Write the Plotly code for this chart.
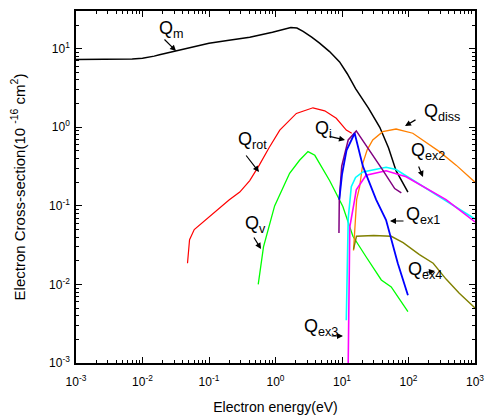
import plotly.graph_objects as go

# ---------------- data ----------------
qm_x = [0.001, 0.003, 0.005, 0.007, 0.01, 0.012, 0.015, 0.018, 0.032, 0.06, 0.1, 0.2, 0.41, 0.9, 1.3, 1.7, 2.1, 2.6, 3.5, 4.6, 6.5, 9.2, 12, 16, 25, 37, 50, 65, 98]
qm_y = [7.3, 7.3, 7.35, 7.42, 7.55, 7.75, 8.05, 8.4, 9.4, 10.7, 11.7, 12.8, 14.0, 16.2, 17.6, 18.6, 18.3, 16.6, 14.0, 11.8, 9.2, 6.8, 4.8, 3.1, 1.75, 1.0, 0.55, 0.28, 0.15]

qrot_x = [0.0475, 0.049, 0.051, 0.06, 0.077, 0.13, 0.2, 0.29, 0.41, 0.57, 0.8, 1.16, 2.06, 3.66, 5.5, 8.2, 11.6, 14]
qrot_y = [0.0186, 0.027, 0.037, 0.05, 0.06, 0.088, 0.119, 0.15, 0.21, 0.33, 0.55, 0.92, 1.5, 1.77, 1.62, 1.3, 0.92, 0.84]

qv_x = [0.55, 0.62, 0.66, 0.97, 1.63, 2.3, 3.08, 3.9, 6.5, 10.3, 14.6, 23, 39, 55, 98]
qv_y = [0.01, 0.021, 0.03, 0.1, 0.26, 0.38, 0.49, 0.44, 0.21, 0.098, 0.041, 0.0225, 0.0114, 0.0093, 0.0045]

qi1_x = [9.0, 9.1, 9.9, 12.4, 16.4, 26, 41, 62, 78]
qi1_y = [0.045, 0.12, 0.32, 0.69, 0.90, 0.51, 0.285, 0.166, 0.146]

qi2_x = [9.1, 10, 11.7, 15.5, 20.6, 32.6, 46, 69, 98]
qi2_y = [0.12, 0.25, 0.51, 0.84, 0.32, 0.12, 0.066, 0.0186, 0.0073]

qdiss_x = [14.9, 16.6, 18.4, 20.6, 24, 29, 41, 65, 116, 200, 292, 520, 1000]
qdiss_y = [0.027, 0.12, 0.175, 0.35, 0.52, 0.69, 0.88, 0.95, 0.84, 0.62, 0.49, 0.33, 0.20]

qex2a_x = [11.6, 12.4, 13.8, 16, 20.6, 36.7, 46, 65, 146, 292, 1000]
qex2a_y = [0.0035, 0.069, 0.175, 0.23, 0.27, 0.30, 0.31, 0.29, 0.19, 0.13, 0.068]

qex2b_x = [12.4, 12.7, 13.1, 15.5, 16.4, 23, 46, 92, 184, 367, 1000]
qex2b_y = [0.001, 0.01, 0.054, 0.12, 0.16, 0.245, 0.28, 0.235, 0.167, 0.12, 0.0625]

qex4_x = [14.9, 16.5, 30, 55, 83, 146, 235, 367, 580, 1000]
qex4_y = [0.028, 0.041, 0.042, 0.041, 0.034, 0.024, 0.0186, 0.0117, 0.0077, 0.005]

x_tick_vals = [1e-3, 1e-2, 1e-1, 1e0, 1e1, 1e2, 1e3]
x_tick_text = ["10<sup>-3</sup>", "10<sup>-2</sup>", "10<sup>-1</sup>", "10<sup>0</sup>",
               "10<sup>1</sup>", "10<sup>2</sup>", "10<sup>3</sup>"]
y_tick_vals = [1e-3, 1e-2, 1e-1, 1e0, 1e1]
y_tick_text = ["10<sup>-3</sup>", "10<sup>-2</sup>", "10<sup>-1</sup>", "10<sup>0</sup>", "10<sup>1</sup>"]

# labels: (text, text-left px, text-center py, arrow tail px, tail py, head px, head py)
labels = [
    ("Q<sub>m</sub>", 157, 27, 163, 38, 176, 51),
    ("Q<sub>rot</sub>", 236, 138, 245, 154, 259, 172),
    ("Q<sub>v</sub>", 243, 222, 253, 236, 261, 249),
    ("Q<sub>ex3</sub>", 302, 325, 330, 336, 343, 336),
    ("Q<sub>ex1</sub>", 404, 213, 405, 221, 390, 221),
    ("Q<sub>ex4</sub>", 406, 268, 422, 273, 435, 271),
    ("Q<sub>diss</sub>", 422, 110, 417, 119, 405, 126),
    ("Q<sub>ex2</sub>", 409, 150, 418, 165, 423, 177),
    ("Q<sub>i</sub>", 313, 127, 328, 136, 345, 140),
]

# ---------------- figure ----------------
W, H = 487, 417
ML, MR, MT, MB = 76, 12, 11, 54
PW, PH = W - ML - MR, H - MT - MB

def px2paper(px, py):
    return (px - ML) / PW, (H - MB - py) / PH

FONT = "Liberation Sans, Arial, sans-serif"

fig = go.Figure()
series = [
    (qm_x, qm_y, "#000000", 1.5),
    (qrot_x, qrot_y, "#FF0000", 1.2),
    (qv_x, qv_y, "#00FF00", 1.3),
    (qdiss_x, qdiss_y, "#FF8000", 1.3),
    (qex2a_x, qex2a_y, "#00FFFF", 1.6),
    (qex2b_x, qex2b_y, "#FF00FF", 1.6),
    (qex4_x, qex4_y, "#808000", 1.4),
    (qi1_x, qi1_y, "#800080", 1.5),
    (qi2_x, qi2_y, "#0000FF", 1.8),
]
for xs, ys, c, w in series:
    fig.add_trace(go.Scatter(x=xs, y=ys, mode="lines",
                             line=dict(color=c, width=w),
                             showlegend=False, hoverinfo="skip"))

annotations = []
for txt, tx, ty, ax_, ay_, hx, hy in labels:
    xp, yp = px2paper(tx, ty + 2)
    annotations.append(dict(text=txt, x=xp, y=yp, xref="paper", yref="paper",
                            xanchor="left", yanchor="middle", showarrow=False,
                            font=dict(family=FONT, size=18, color="black")))
    hxp, hyp = px2paper(hx, hy)
    annotations.append(dict(text="", x=hxp, y=hyp, xref="paper", yref="paper",
                            showarrow=True, ax=ax_ - hx, ay=ay_ - hy,
                            arrowhead=2, arrowsize=1, arrowwidth=1.2, arrowcolor="black"))

minor_vals = [m * 10 ** e for e in range(-3, 3) for m in range(2, 10)]

axis_common = dict(type="log", showline=True, linecolor="black", linewidth=1.5,
                   mirror="allticks", ticks="inside", ticklen=6, tickwidth=1, tickcolor="black",
                   showgrid=False, zeroline=False, automargin=False,
                   tickfont=dict(family=FONT, size=12, color="black"),
                   minor=dict(ticks="inside", ticklen=3, tickwidth=1, tickcolor="black",
                              tickvals=minor_vals, showgrid=False))

fig.update_layout(
    width=W, height=H,
    margin=dict(l=ML, r=MR, t=MT, b=MB, pad=0, autoexpand=False),
    paper_bgcolor="white", plot_bgcolor="white",
    annotations=annotations,
    xaxis=dict(axis_common, range=[-3, 3], tickvals=x_tick_vals, ticktext=x_tick_text,
               ticklabelstandoff=7,
               title=dict(text="Electron energy(eV)", font=dict(family=FONT, size=14, color="black"),
                          standoff=14)),
    yaxis=dict(axis_common, range=[-3, 1.48], tickvals=y_tick_vals, ticktext=y_tick_text,
               ticklabelstandoff=2,
               title=dict(text="Electron Cross-section(10 <sup>-16</sup> cm<sup>2</sup>)",
                          font=dict(family=FONT, size=15, color="black"), standoff=20)),
)

fig.write_html("out.html")
